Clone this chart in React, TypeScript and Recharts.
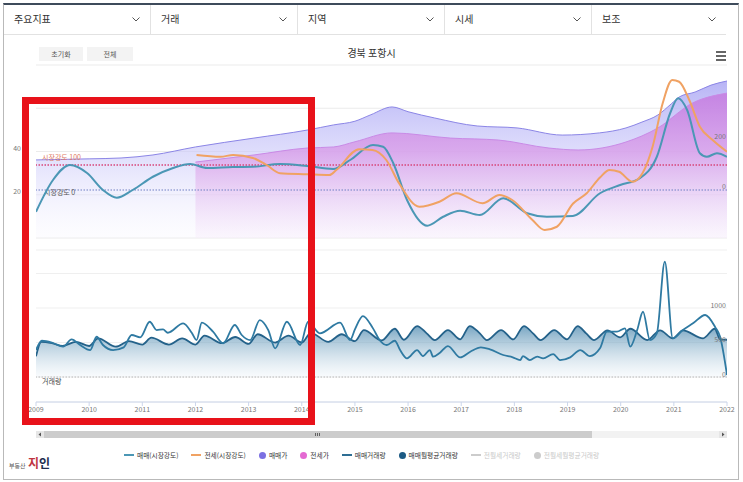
import React from "react";
import {
  ComposedChart,
  Area,
  Line,
  XAxis,
  YAxis,
  CartesianGrid,
  ReferenceLine,
} from "recharts";

const FONT = "'Noto Sans CJK KR', 'Noto Sans', sans-serif";

const menuItems = ["주요지표", "거래", "지역", "시세", "보조"];
const yearTicks = [
  2009, 2010, 2011, 2012, 2013, 2014, 2015, 2016, 2017, 2018, 2019, 2020, 2021, 2022,
];

// 매매가 / 전세가 (left axis)
const salePriceX = [
  2009.0, 2010.0, 2010.6, 2011.2, 2012.0, 2013.1, 2014.1, 2014.6, 2015.0, 2015.3, 2015.7, 2016.0,
  2016.5, 2017.3, 2018.05, 2018.9, 2019.6, 2020.1, 2020.4, 2020.7, 2020.95, 2021.1, 2021.4, 2021.7,
  2022.0,
];
const salePrice = [
  36.1, 36.6, 37.0, 38.4, 42.1, 46.2, 49.9, 52.3, 54.0, 57.0, 60.6, 58.4, 55.5, 51.8, 50.9, 47.6,
  48.6, 50.9, 53.6, 56.9, 62.0, 65.2, 67.5, 70.7, 72.6,
];
const rentPriceX = [
  2012.0, 2013.1, 2014.1, 2014.6, 2015.0, 2015.7, 2016.8, 2017.7, 2018.65, 2019.2, 2020.1, 2020.7,
  2021.35, 2022.0,
];
const rentPrice = [35.1, 38.4, 41.6, 42.1, 44.5, 48.6, 46.2, 45.3, 41.6, 40.7, 44.4, 50.9, 62.4, 67.0];

// 시장강도 (right axis)
const saleStrengthX = [
  2009.0, 2009.32, 2009.64, 2009.96, 2010.26, 2010.52, 2010.82, 2011.2, 2011.58, 2011.9, 2012.22,
  2012.7, 2013.08, 2013.59, 2014.1, 2014.59, 2014.91, 2015.34, 2015.53, 2015.72, 2015.98, 2016.36,
  2016.66, 2016.98, 2017.35, 2017.79, 2018.24, 2018.61, 2019.1, 2019.61, 2019.99, 2020.36, 2020.68,
  2020.93, 2021.08, 2021.25, 2021.49, 2021.62, 2021.81, 2022.0,
];
const saleStrength = [
  -87, 40, 100, 68, 0, -31, 0, 53, 88, 104, 88, 92, 93, 104, 96, 84, 120, 180, 173, 108, -40, -143,
  -107, -83, -100, -33, -93, -107, -104, -13, 20, 47, 133, 307, 367, 320, 147, 133, 147, 133,
];
const rentStrengthX = [
  2012.02, 2012.47, 2012.71, 2013.08, 2013.34, 2013.59, 2014.1, 2014.52, 2014.65, 2015.08, 2015.33,
  2015.59, 2015.83, 2016.21, 2016.59, 2016.91, 2017.4, 2017.72, 2017.96, 2018.34, 2018.57, 2018.8,
  2019.1, 2019.36, 2019.61, 2019.79, 2019.97, 2020.22, 2020.41, 2020.6, 2020.79, 2020.97, 2021.1,
  2021.29, 2021.49, 2021.73, 2022.0,
];
const rentStrength = [
  140, 133, 140, 128, 100, 67, 63, 60, 80, 163, 160, 120, 27, -67, -47, -13, -53, -20, -40, -120,
  -160, -147, -55, -13, 50, 80, 73, 33, 67, 173, 347, 440, 433, 360, 253, 200, 153,
];

// 매매거래량 / 매매월평균거래량
const tradeX = [
  2009.0, 2009.11, 2009.32, 2009.51, 2009.67, 2009.83, 2010.02, 2010.14, 2010.26, 2010.45, 2010.65,
  2010.8, 2010.96, 2011.14, 2011.27, 2011.39, 2011.48, 2011.77, 2011.93, 2012.02, 2012.12, 2012.33,
  2012.52, 2012.74, 2012.87, 2013.03, 2013.21, 2013.37, 2013.5, 2013.72, 2013.97, 2014.12, 2014.34,
  2014.72, 2014.91, 2015.0, 2015.15, 2015.34, 2015.47, 2015.6, 2015.75, 2015.85, 2015.98, 2016.17,
  2016.28, 2016.41, 2016.47, 2016.6, 2016.75, 2016.98, 2017.17, 2017.37, 2017.54, 2017.79, 2017.97,
  2018.11, 2018.16, 2018.29, 2018.43, 2018.54, 2018.73, 2018.86, 2019.05, 2019.24, 2019.42, 2019.61,
  2019.74, 2019.93, 2020.08, 2020.18, 2020.31, 2020.42, 2020.55, 2020.68, 2020.83, 2020.98, 2021.17,
  2021.36, 2021.59, 2021.78, 2021.87, 2022.0,
];
const trade = [
  390, 526, 493, 440, 546, 464, 391, 584, 464, 391, 430, 609, 575, 801, 681, 691, 642, 778, 642, 536,
  787, 657, 488, 754, 609, 536, 826, 681, 416, 801, 464, 801, 633, 787, 536, 691, 884, 705, 530, 464,
  526, 391, 271, 391, 304, 391, 295, 353, 449, 285, 367, 430, 401, 319, 285, 246, 304, 246, 295, 271,
  333, 246, 285, 391, 304, 416, 657, 657, 705, 440, 681, 946, 536, 633, 1671, 560, 681, 778, 899, 720,
  584, 29,
];
const avgTradeX = [
  2009.0, 2009.1, 2009.3, 2009.5, 2009.75, 2010.0, 2010.17, 2010.5, 2010.75, 2011.0, 2011.17, 2011.5,
  2011.75, 2012.0, 2012.17, 2012.5, 2012.75, 2013.0, 2013.17, 2013.5, 2013.75, 2014.0, 2014.17,
  2014.5, 2014.75, 2015.0, 2015.17, 2015.5, 2015.75, 2015.92, 2016.17, 2016.35, 2016.5, 2016.75,
  2016.98, 2017.16, 2017.35, 2017.48, 2017.75, 2017.98, 2018.18, 2018.35, 2018.49, 2018.75, 2018.99,
  2019.19, 2019.35, 2019.5, 2019.75, 2019.99, 2020.18, 2020.5, 2020.74, 2020.98, 2021.17, 2021.55,
  2021.77, 2021.87, 2022.0,
];
const avgTrade = [
  300, 510, 490, 450, 510, 450, 560, 440, 520, 470, 570, 470, 560, 470, 600, 490, 580, 480, 620, 500,
  600, 500, 640, 510, 620, 520, 680, 530, 700, 540, 739, 633, 536, 681, 546, 739, 633, 536, 681, 546,
  739, 633, 536, 681, 546, 739, 633, 536, 676, 575, 700, 536, 676, 560, 676, 560, 700, 546, 540,
];

const legendItems = [
  { name: "매매(시장강도)", color: "#4b97b5", kind: "line" },
  { name: "전세(시장강도)", color: "#f0a263", kind: "line" },
  { name: "매매가", color: "#7b70e2", kind: "dot" },
  { name: "전세가", color: "#e46ad2", kind: "dot" },
  { name: "매매거래량", color: "#2e6e94", kind: "line" },
  { name: "매매월평균거래량", color: "#1c5a84", kind: "dot" },
  { name: "전월세거래량", color: "#cccccc", kind: "line", off: true },
  { name: "전월세월평균거래량", color: "#cccccc", kind: "dot", off: true },
];

const pts = (xs: number[], ys: number[]) => xs.map((x, i) => ({ x, y: ys[i] }));

function RefLabel(props: any) {
  const { viewBox, text, color, dx, dy } = props;
  if (!viewBox) return null;
  return (
    <text
      x={viewBox.x + dx}
      y={viewBox.y + dy}
      fill={color}
      fontSize={7}
      fontFamily={FONT}
      dominantBaseline="middle"
    >
      {text}
    </text>
  );
}

const tickStyle = { fontSize: 7, fill: "#777", fontFamily: FONT };

export default function App() {
  return (
    <div
      style={{
        position: "absolute",
        left: 0,
        top: 0,
        width: 743,
        height: 482,
        background: "#fff",
        fontFamily: FONT,
        overflow: "hidden",
      }}
    >
      <div
        style={{
          position: "absolute",
          left: 3,
          top: 3,
          width: 734,
          height: 474,
          border: "1px solid #b9b9b9",
          borderTop: "2px solid #3e4b5b",
        }}
      />
      {menuItems.map((m, i) => (
        <div
          key={m}
          style={{
            position: "absolute",
            left: 4 + i * 147,
            top: 5,
            width: i < 4 ? 147 : 134,
            height: 30,
            borderRight: i < 4 ? "1px solid #e2e2e2" : "none",
            borderBottom: "1px solid #e2e2e2",
            boxSizing: "border-box",
          }}
        >
          <span
            style={{
              position: "absolute",
              left: 10,
              top: 8,
              fontSize: 10,
              lineHeight: "12px",
              color: "#333",
            }}
          >
            {m}
          </span>
          <svg style={{ position: "absolute", right: 10, top: 12 }} width={8} height={5}>
            <polyline points="0.5,0.5 4,4 7.5,0.5" fill="none" stroke="#555" strokeWidth={1} />
          </svg>
        </div>
      ))}

      <div
        style={{
          position: "absolute",
          left: 39,
          top: 47,
          width: 44,
          height: 14,
          background: "#f3f3f3",
          fontSize: 7,
          lineHeight: "14px",
          color: "#555",
          textAlign: "center",
        }}
      >
        초기화
      </div>
      <div
        style={{
          position: "absolute",
          left: 87,
          top: 47,
          width: 46,
          height: 14,
          background: "#f3f3f3",
          fontSize: 7,
          lineHeight: "14px",
          color: "#555",
          textAlign: "center",
        }}
      >
        전체
      </div>
      <div
        style={{
          position: "absolute",
          left: 0,
          top: 46,
          width: 743,
          textAlign: "center",
          fontSize: 10,
          lineHeight: "14px",
          color: "#333",
        }}
      >
        경북 포항시
      </div>
      {[51, 55, 59].map((t) => (
        <div
          key={t}
          style={{ position: "absolute", left: 716, top: t, width: 10, height: 1.6, background: "#666" }}
        />
      ))}

      {/* upper pane: 시세 + 시장강도 */}
      <div style={{ position: "absolute", left: 0, top: 0 }}>
        <ComposedChart width={743} height={250} margin={{ top: 65, right: 16, bottom: 12, left: 0 }}>
          <defs>
            <linearGradient id="saleFill" gradientUnits="userSpaceOnUse" x1="0" y1="65" x2="0" y2="238">
              <stop offset="0%" stopColor="#9f9af2" stopOpacity={0.85} />
              <stop offset="55%" stopColor="#cfcdfa" stopOpacity={0.6} />
              <stop offset="100%" stopColor="#f4f3fe" stopOpacity={0.2} />
            </linearGradient>
            <linearGradient id="rentFill" gradientUnits="userSpaceOnUse" x1="0" y1="65" x2="0" y2="238">
              <stop offset="0%" stopColor="#bd6ddc" stopOpacity={0.92} />
              <stop offset="50%" stopColor="#d89de9" stopOpacity={0.8} />
              <stop offset="100%" stopColor="#f7ecfb" stopOpacity={0.4} />
            </linearGradient>
          </defs>
          <CartesianGrid vertical={false} stroke="#ebebeb" yAxisId="left" />
          <XAxis type="number" dataKey="x" domain={[2009, 2022]} allowDataOverflow hide />
          <YAxis
            yAxisId="left"
            type="number"
            domain={[0, 80]}
            ticks={[0, 20, 40, 60]}
            width={36}
            axisLine={false}
            tickLine={false}
            tickSize={0}
            tickMargin={15}
            tick={{ ...tickStyle, dy: -3 }}
            tickFormatter={(v: number) => (v === 20 || v === 40 ? String(v) : "")}
          />
          <YAxis
            yAxisId="right"
            orientation="right"
            mirror
            type="number"
            domain={[-192, 500]}
            allowDataOverflow
            ticks={[0, 200]}
            axisLine={false}
            tickLine={false}
            tickSize={0}
            tickMargin={1}
            tick={{ ...tickStyle, dy: -3 }}
          />
          <Area
            yAxisId="left"
            data={pts(salePriceX, salePrice)}
            dataKey="y"
            type="monotone"
            stroke="#8b85e6"
            strokeWidth={1}
            fill="url(#saleFill)"
            fillOpacity={1}
            isAnimationActive={false}
          />
          <Area
            yAxisId="left"
            data={pts(rentPriceX, rentPrice)}
            dataKey="y"
            type="monotone"
            stroke="#c98ae6"
            strokeWidth={1}
            fill="url(#rentFill)"
            fillOpacity={1}
            isAnimationActive={false}
          />
          <ReferenceLine
            yAxisId="right"
            y={100}
            stroke="#d8457a"
            strokeWidth={1.5}
            strokeDasharray="1.5 1.5"
            label={<RefLabel text="시장강도 100" color="#e07a5f" dx={6} dy={-7} />}
          />
          <ReferenceLine
            yAxisId="right"
            y={0}
            stroke="#6f7fc4"
            strokeWidth={1.2}
            strokeDasharray="1.5 1.5"
            label={<RefLabel text="시장강도 0" color="#555" dx={8} dy={3} />}
          />
          <Line
            yAxisId="right"
            data={pts(saleStrengthX, saleStrength)}
            dataKey="y"
            type="monotone"
            stroke="#4b97b5"
            strokeWidth={2}
            dot={false}
            isAnimationActive={false}
          />
          <Line
            yAxisId="right"
            data={pts(rentStrengthX, rentStrength)}
            dataKey="y"
            type="monotone"
            stroke="#f0a263"
            strokeWidth={2}
            dot={false}
            isAnimationActive={false}
          />
        </ComposedChart>
      </div>

      {/* lower pane: 거래량 */}
      <div style={{ position: "absolute", left: 0, top: 240 }}>
        <ComposedChart width={743} height={190} margin={{ top: 10, right: 16, bottom: 0, left: 36 }}>
          <defs>
            <linearGradient id="volFill" gradientUnits="userSpaceOnUse" x1="0" y1="82" x2="0" y2="137">
              <stop offset="0%" stopColor="#3e7fa8" stopOpacity={0.78} />
              <stop offset="100%" stopColor="#e9f1f7" stopOpacity={0.3} />
            </linearGradient>
          </defs>
          <CartesianGrid vertical={false} stroke="#efefef" yAxisId="vol" />
          <XAxis
            type="number"
            dataKey="x"
            domain={[2009, 2022]}
            allowDataOverflow
            ticks={yearTicks}
            interval={0}
            height={28}
            stroke="#ccd6eb"
            tickSize={4}
            tickMargin={1}
            tick={tickStyle}
          />
          <YAxis
            yAxisId="vol"
            orientation="right"
            mirror
            type="number"
            domain={[-362, 1841]}
            allowDataOverflow
            ticks={[0, 500, 1000, 1500]}
            axisLine={false}
            tickLine={false}
            tickSize={0}
            tickMargin={1}
            tick={{ ...tickStyle, dy: -3 }}
            tickFormatter={(v: number) => (v === 1500 ? "" : String(v))}
          />
          <ReferenceLine
            yAxisId="vol"
            y={0}
            stroke="#b8b8b8"
            strokeWidth={1}
            strokeDasharray="1.5 1.5"
            label={<RefLabel text="거래량" color="#444" dx={6} dy={5} />}
          />
          <Area
            yAxisId="vol"
            data={pts(avgTradeX, avgTrade)}
            dataKey="y"
            type="monotone"
            stroke="#24628a"
            strokeWidth={1.8}
            fill="url(#volFill)"
            fillOpacity={1}
            isAnimationActive={false}
          />
          <Line
            yAxisId="vol"
            data={pts(tradeX, trade)}
            dataKey="y"
            type="monotone"
            stroke="#2f7aa2"
            strokeWidth={1.8}
            dot={false}
            isAnimationActive={false}
          />
        </ComposedChart>
      </div>

      {/* scrollbar */}
      <div style={{ position: "absolute", left: 36, top: 431, width: 691, height: 7, background: "#f2f2f2" }} />
      <div style={{ position: "absolute", left: 36, top: 431, width: 8, height: 7, background: "#e6e6e6" }} />
      <div style={{ position: "absolute", left: 719, top: 431, width: 8, height: 7, background: "#e6e6e6" }} />
      <svg style={{ position: "absolute", left: 36, top: 431 }} width={691} height={7}>
        <polygon points="5,1.5 2.5,3.5 5,5.5" fill="#555" />
        <polygon points="686,1.5 688.5,3.5 686,5.5" fill="#555" />
      </svg>
      <div style={{ position: "absolute", left: 44, top: 431, width: 548, height: 7, background: "#cccccc" }} />
      <svg style={{ position: "absolute", left: 314, top: 431 }} width={8} height={7}>
        {[1.5, 3.5, 5.5].map((x) => (
          <line key={x} x1={x} y1={2} x2={x} y2={5} stroke="#333" strokeWidth={0.7} />
        ))}
      </svg>

      {/* legend */}
      <div
        style={{
          position: "absolute",
          left: 124,
          top: 450,
          height: 10,
          display: "flex",
          alignItems: "center",
          gap: 13,
          fontSize: 6.7,
          lineHeight: "10px",
          whiteSpace: "nowrap",
        }}
      >
        {legendItems.map((it) => (
          <div key={it.name} style={{ display: "flex", alignItems: "center", gap: 3 }}>
            {it.kind === "line" ? (
              <div style={{ width: 10, height: 1.5, background: it.color }} />
            ) : (
              <div style={{ width: 7, height: 7, borderRadius: "50%", background: it.color }} />
            )}
            <span style={{ color: it.off ? "#c8c8c8" : "#333" }}>{it.name}</span>
          </div>
        ))}
      </div>

      {/* logo */}
      <div style={{ position: "absolute", left: 9, top: 462, fontSize: 6, lineHeight: "7px", color: "#555" }}>
        부동산
      </div>
      <div
        style={{
          position: "absolute",
          left: 28,
          top: 456,
          fontSize: 12,
          lineHeight: "14px",
          fontWeight: 700,
          color: "#1e2d4f",
        }}
      >
        <span style={{ color: "#c0343f" }}>지</span>인
      </div>

      {/* highlight box */}
      <svg
        style={{ position: "absolute", left: 0, top: 0, pointerEvents: "none" }}
        width={743}
        height={482}
      >
        <rect x={25.5} y={100.5} width={286} height={321} fill="none" stroke="#e8121a" strokeWidth={7} />
      </svg>
    </div>
  );
}
